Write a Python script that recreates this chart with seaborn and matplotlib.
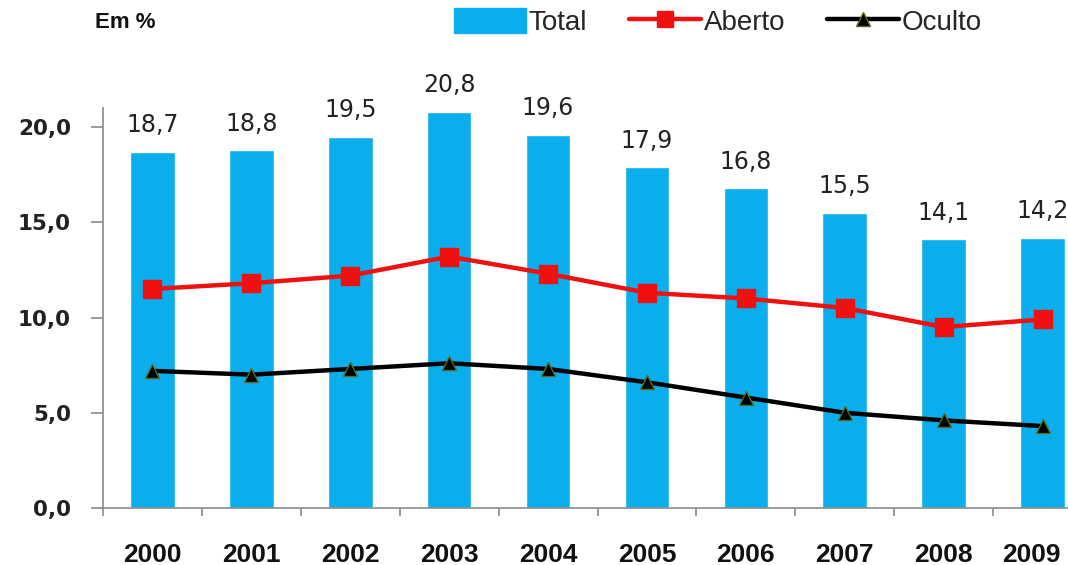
import numpy as np
import matplotlib
matplotlib.use("Agg")
import matplotlib.pyplot as plt
from matplotlib.lines import Line2D
from matplotlib.patches import Patch
from matplotlib.ticker import FuncFormatter, FixedLocator
from matplotlib.transforms import ScaledTranslation
import seaborn as sns

years = ["2000", "2001", "2002", "2003", "2004", "2005", "2006", "2007", "2008", "2009"]
total = [18.7, 18.8, 19.5, 20.8, 19.6, 17.9, 16.8, 15.5, 14.1, 14.2]
aberto = [11.5, 11.8, 12.2, 13.2, 12.3, 11.3, 11.0, 10.5, 9.5, 9.9]
oculto = [7.2, 7.0, 7.3, 7.6, 7.3, 6.6, 5.8, 5.0, 4.6, 4.3]

sns.set_theme(style="white")
plt.rcParams["font.family"] = ["DejaVu Sans"]
narrow = ["Liberation Sans", "DejaVu Sans"]

BLUE = "#0AAEEC"
RED = "#F01010"
GRAY = "#8A8A8A"

fig = plt.figure(figsize=(10.68, 5.65), dpi=100)
ax = fig.add_axes([103 / 1068, 57 / 565, 989 / 1068, 400 / 565])

sns.barplot(x=years, y=total, color=BLUE, saturation=1, width=0.45, ax=ax)
sns.pointplot(x=years, y=aberto, color=RED, markers="s", linestyles="-",
              errorbar=None, markersize=11, linewidth=3.2, ax=ax)
sns.pointplot(x=years, y=oculto, color="black", markers="^", linestyles="-",
              errorbar=None, markersize=10.5, linewidth=3.2, ax=ax)

# olive edge on the triangle markers
for ln in ax.lines:
    if ln.get_marker() == "^":
        ln.set_markeredgecolor("#5A6A20")
        ln.set_markerfacecolor("black")
        ln.set_markeredgewidth(1.0)
    if ln.get_marker() == "s":
        ln.set_markeredgecolor(RED)

# value labels above bars
for i, v in enumerate(total):
    ax.annotate(f"{v:.1f}".replace(".", ","), xy=(i, v), xytext=(0, 19),
                textcoords="offset points", ha="center", va="center",
                fontsize=17, color="#222222")

ax.set_xlim(-0.5, 9.5)
ax.set_ylim(0, 21)
ax.set_yticks([0, 5, 10, 15, 20])
ax.yaxis.set_major_formatter(FuncFormatter(lambda v, p: f"{v:.1f}".replace(".", ",")))
for lbl in ax.get_yticklabels():
    lbl.set_fontweight("bold")
ax.tick_params(axis="y", which="major", left=True, length=9, width=1.2,
               color=GRAY, pad=14, labelsize=15.5, labelcolor="#222222")

# tick marks between categories, year labels centred under bars
ax.xaxis.set_major_locator(FixedLocator(np.arange(-0.5, 10, 1)))
ax.xaxis.set_minor_locator(FixedLocator(np.arange(10)))
ax.set_xticklabels([], minor=False)
ax.set_xticklabels(years, minor=True)
ax.tick_params(axis="x", which="major", bottom=True, length=6, width=1.2, color=GRAY)
ax.tick_params(axis="x", which="minor", bottom=True, length=0, pad=25,
               labelsize=19, labelcolor="#111111")
year_labels = ax.get_xticklabels(minor=True)
for lbl in year_labels:
    lbl.set_fontfamily(narrow)
    lbl.set_fontweight("bold")
# keep the last year label inside the figure
year_labels[-1].set_transform(year_labels[-1].get_transform()
                              + ScaledTranslation(-0.11, 0, fig.dpi_scale_trans))

ax.set_xlabel("")
ax.set_ylabel("")
for side in ("top", "right"):
    ax.spines[side].set_visible(False)
for side in ("left", "bottom"):
    ax.spines[side].set_color(GRAY)
    ax.spines[side].set_linewidth(1.2)

fig.text(95 / 1068, 1 - 22 / 565, "Em %", ha="left", va="center",
         fontsize=16, fontweight="bold", family=narrow, color="#111111")

handles = [
    Patch(facecolor=BLUE, edgecolor=BLUE),
    Line2D([], [], color=RED, lw=3.2, marker="s", markersize=11),
    Line2D([], [], color="black", lw=3.2, marker="^", markersize=10.5,
           markerfacecolor="black", markeredgecolor="#5A6A20"),
]
fig.legend(handles, ["Total", "Aberto", "Oculto"], loc="center",
           bbox_to_anchor=(718 / 1068, 1 - 22 / 565), ncol=3, frameon=False,
           prop={"family": narrow, "size": 20}, handlelength=2.6,
           handleheight=1.0, handletextpad=0.1, columnspacing=1.5)

fig.savefig("out.png", dpi=100)
